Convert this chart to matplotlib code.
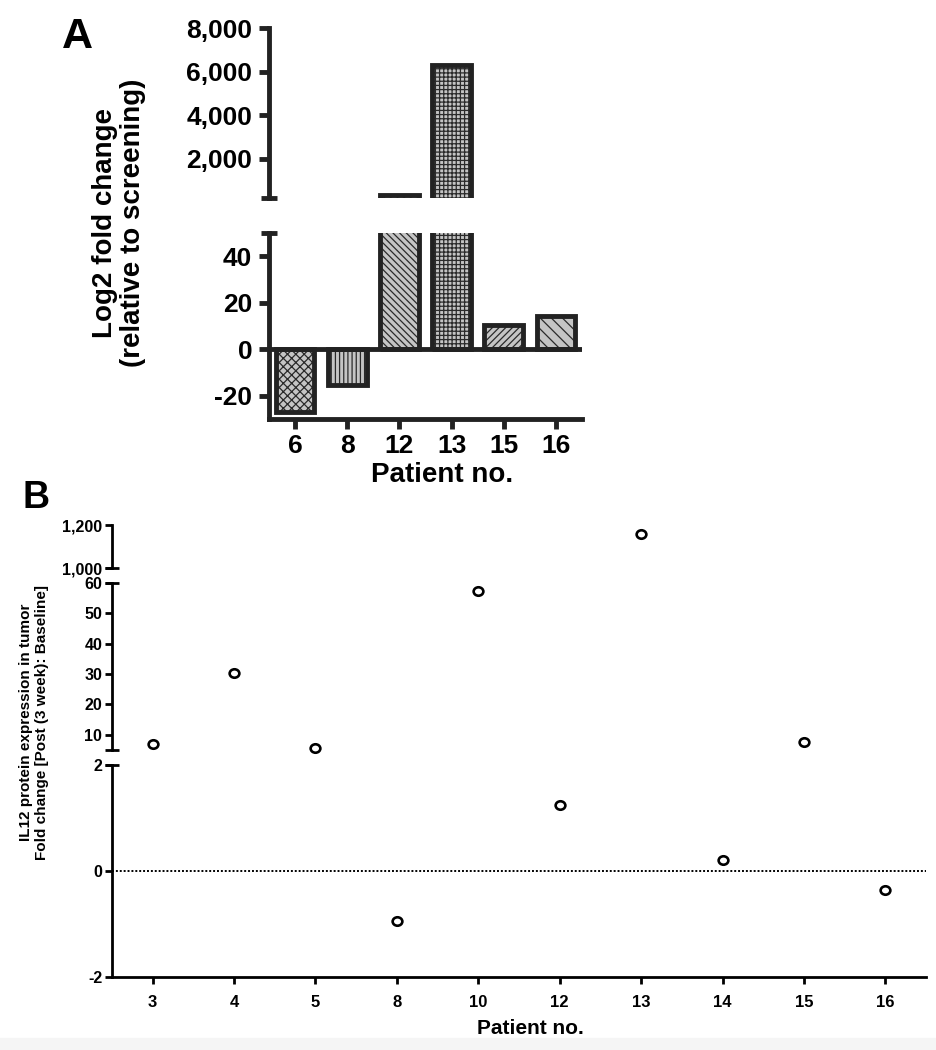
import numpy as np
import matplotlib
matplotlib.use("Agg")
import matplotlib.pyplot as plt
from matplotlib import font_manager as fm
from matplotlib.path import Path
from matplotlib.transforms import Affine2D, blended_transform_factory
from matplotlib.ticker import FuncFormatter, FixedLocator

# ---------------- data ----------------
a_patients = ["6", "8", "12", "13", "15", "16"]
a_values = [-26.8, -15.3, 350, 6300, 10.6, 14.5]

b_patients = ["3", "4", "5", "8", "10", "12", "13", "14", "15", "16"]
b_values = [7.1, 30.3, 5.5, -0.95, 57.5, 1.25, 1157, 0.2, 7.8, -0.35]

a_top_ticks = [2000, 4000, 6000, 8000]
a_bot_ticks = [-20, 0, 20, 40]
b_top_ticks = [1000, 1200]
b_mid_ticks = [10, 20, 30, 40, 50, 60]
b_bot_ticks = [-2, 0, 2]

# ---------------- style ----------------
plt.rcParams["font.family"] = ["Liberation Sans", "DejaVu Sans"]
plt.rcParams["hatch.linewidth"] = 0.9
plt.rcParams["axes.unicode_minus"] = False


def has_font(name):
    try:
        fm.findfont(fm.FontProperties(family=name), fallback_to_default=False)
        return True
    except Exception:
        return False


NARROW = "Liberation Sans Narrow" if has_font("Liberation Sans Narrow") else "Liberation Sans"
DARK = "#222222"
hatches = ["xxxx", "||||", "\\\\\\\\\\", "++++", "/////", "\\\\\\"]

fig = plt.figure(figsize=(9.37, 10.5), dpi=100)
fig.patches.append(plt.Rectangle((0, 0), 1, 12 / 1050, transform=fig.transFigure,
                                 color="#f5f5f5", zorder=-10))

comma = FuncFormatter(lambda v, p: f"{v:,.0f}")

# ---------------- panel A ----------------
axA_top = fig.add_axes([0.2871, 0.8114, 0.3340, 0.1619])
axA_bot = fig.add_axes([0.2871, 0.6010, 0.3340, 0.1771])
xa = np.arange(len(a_patients))
LW_A = 3.5
for ax in (axA_top, axA_bot):
    bars = ax.bar(xa, a_values, width=0.74, color="#c4c4c4", edgecolor="#2a2a2a",
                  linewidth=0, zorder=2)
    for p, h in zip(bars, hatches):
        p.set_hatch(h)
    ax.bar(xa, a_values, width=0.74, fill=False, edgecolor=DARK, linewidth=LW_A, zorder=3)
    ax.set_xlim(-0.5, len(a_patients) - 0.5)
    for s in ("top", "right"):
        ax.spines[s].set_visible(False)
    ax.spines["left"].set_linewidth(LW_A)
    ax.spines["left"].set_color(DARK)
    ax.tick_params(axis="y", direction="out", length=7, width=LW_A, color=DARK,
                   labelsize=19, pad=5)

axA_top.set_ylim(200, 8000)
axA_top.yaxis.set_major_locator(FixedLocator(a_top_ticks))
axA_top.yaxis.set_major_formatter(comma)
axA_top.spines["bottom"].set_visible(False)
axA_top.set_xticks([])

axA_bot.set_ylim(-30, 50)
axA_bot.set_yticks(a_bot_ticks)
axA_bot.spines["bottom"].set_linewidth(LW_A)
axA_bot.spines["bottom"].set_color(DARK)
axA_bot.set_xticks(xa)
axA_bot.set_xticklabels(a_patients)
axA_bot.tick_params(axis="x", direction="out", length=7, width=LW_A, color=DARK,
                    labelsize=19, pad=4)
axA_bot.axhline(0, color=DARK, lw=LW_A, zorder=4)
for ax in (axA_top, axA_bot):
    for t in ax.get_yticklabels() + ax.get_xticklabels():
        t.set_fontweight("bold")

# break caps panel A
trA_top = blended_transform_factory(axA_top.transAxes, axA_top.transData)
axA_top.plot([-0.025, 0.025], [axA_top.get_ylim()[0]] * 2, transform=trA_top,
             color=DARK, lw=LW_A, clip_on=False, solid_capstyle="butt")
trA_bot = blended_transform_factory(axA_bot.transAxes, axA_bot.transData)
axA_bot.plot([-0.025, 0.025], [axA_bot.get_ylim()[1]] * 2, transform=trA_bot,
             color=DARK, lw=LW_A, clip_on=False, solid_capstyle="butt")

fig.text(62 / 937, 1 - 48 / 1050, "A", fontsize=31, fontweight="bold",
         ha="left", va="baseline")
fig.text(119 / 937, 1 - 223 / 1050, "Log2 fold change\n(relative to screening)",
         rotation=90, fontsize=20, fontweight="bold", ha="center", va="center",
         multialignment="center", linespacing=1.15)
fig.text(442 / 937, 1 - 475 / 1050, "Patient no.", fontsize=20, fontweight="bold",
         ha="center", va="center")

# ---------------- panel B ----------------
axB_top = fig.add_axes([0.1195, 0.4590, 0.8688, 0.0410])
axB_mid = fig.add_axes([0.1195, 0.2857, 0.8688, 0.1590])
axB_bot = fig.add_axes([0.1195, 0.0695, 0.8688, 0.2019])
xb = np.arange(len(b_patients))
bv = np.array(b_values)
LW_B = 2.0

ell = Path.unit_circle().transformed(Affine2D().scale(1.15, 1.0))

segments = [(axB_top, (1000, 1200), b_top_ticks),
            (axB_mid, (5, 60), b_mid_ticks),
            (axB_bot, (-2, 2), b_bot_ticks)]
for ax, (lo, hi), ticks in segments:
    ax.set_xlim(-0.5, len(b_patients) - 0.5)
    ax.set_ylim(lo, hi)
    ax.yaxis.set_major_locator(FixedLocator(ticks))
    ax.yaxis.set_major_formatter(comma)
    for s in ("top", "right"):
        ax.spines[s].set_visible(False)
    ax.spines["left"].set_linewidth(LW_B)
    ax.tick_params(axis="y", direction="out", length=5, width=LW_B, labelsize=11.5, pad=2)
    for t in ax.get_yticklabels():
        t.set_fontweight("bold")
    m = (bv >= lo) & (bv <= hi)
    ax.plot(xb[m], bv[m], linestyle="none", marker=ell, markersize=7,
            markerfacecolor="none", markeredgecolor="black", markeredgewidth=1.9,
            clip_on=False, zorder=5)
    if ax is not axB_bot:
        ax.spines["bottom"].set_visible(False)
        ax.set_xticks([])

axB_bot.spines["bottom"].set_linewidth(LW_B)
axB_bot.set_xticks(xb)
axB_bot.set_xticklabels(b_patients)
axB_bot.tick_params(axis="x", direction="out", length=5, width=LW_B, labelsize=12, pad=8)
for t in axB_bot.get_xticklabels():
    t.set_fontweight("bold")
    t.set_family([NARROW, "DejaVu Sans"])
axB_bot.axhline(0, color="black", lw=1.4, ls=(0, (1, 1)), zorder=1)

# break caps panel B
for ax, ends in ((axB_top, ["lo"]), (axB_mid, ["lo", "hi"]), (axB_bot, ["hi"])):
    tr = blended_transform_factory(ax.transAxes, ax.transData)
    lo, hi = ax.get_ylim()
    for e in ends:
        yv = lo if e == "lo" else hi
        ax.plot([-0.0085, 0.0085], [yv, yv], transform=tr, color="black", lw=LW_B,
                clip_on=False, solid_capstyle="butt")

fig.text(23 / 937, 1 - 508 / 1050, "B", fontsize=27, fontweight="bold",
         ha="left", va="baseline")
fig.text(34 / 937, 1 - 722 / 1050,
         "IL12 protein expression in tumor\nFold change [Post (3 week): Baseline]",
         rotation=90, fontsize=11, fontweight="bold", ha="center", va="center",
         multialignment="center", linespacing=1.2)
fig.text(530 / 937, 1 - 1028 / 1050, "Patient no.", fontsize=15, fontweight="bold",
         family=[NARROW, "DejaVu Sans"], ha="center", va="center")

fig.savefig("out.png", dpi=100)
